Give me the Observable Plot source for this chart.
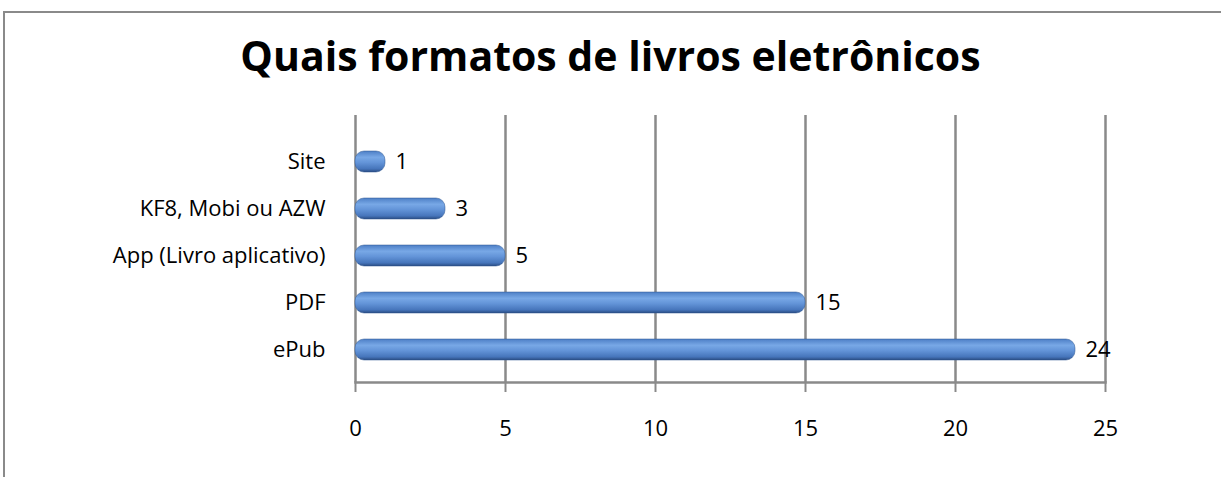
<!DOCTYPE html>
<html>
<head>
<meta charset="utf-8">
<script src="https://cdn.jsdelivr.net/npm/d3@7"></script>
<script src="https://cdn.jsdelivr.net/npm/@observablehq/plot@0.6"></script>
<style>
  html, body { margin: 0; padding: 0; background: #fff; }
  body { width: 1221px; height: 477px; position: relative; overflow: hidden; font-family: "Open Sans", sans-serif; }
  #border { position: absolute; left: 3px; top: 11px; width: 1300px; height: 600px; border-top: 2px solid #8a8a8a; border-left: 2px solid #8a8a8a; }
  #title { position: absolute; left: 0; top: 0; width: 1221px; height: 100px; text-align: center; font-weight: bold; font-size: 41px; line-height: 110px; color: #000; }
  #chart { position: absolute; left: 0; top: 100px; }
  #chart svg text { font-size: 22px; font-family: "Open Sans", sans-serif; }
</style>
</head>
<body>
<div id="border"></div>
<div id="title">Quais formatos de livros eletrônicos</div>
<div id="chart"></div>
<script>
const categories = ["Site", "KF8, Mobi ou AZW", "App (Livro aplicativo)", "PDF", "ePub"];
const values = [1, 3, 5, 15, 24];
const xTicks = [0, 5, 10, 15, 20, 25];

const data = categories.map((c, i) => ({category: c, value: values[i]}));

const svg = Plot.plot({
  width: 1221,
  height: 377,
  marginLeft: 355,
  marginRight: 116,
  marginTop: 15,
  marginBottom: 95,
  style: {fontFamily: "'Open Sans', sans-serif", fontSize: "22px", color: "#000", background: "transparent"},
  x: {domain: [0, 25], ticks: xTicks, label: null},
  y: {domain: categories, paddingInner: 0.55, paddingOuter: 0.58, align: 0.62, label: null},
  marks: [
    Plot.ruleX(xTicks, {stroke: "#8a8a8a", strokeWidth: 2.5, strokeOpacity: 1}),
    Plot.frame({anchor: "bottom", stroke: "#8a8a8a", strokeWidth: 2.5}),
    Plot.axisX({ticks: xTicks, tickSize: 10, tickPadding: 28, stroke: "#8a8a8a", strokeWidth: 2, fill: "#000", label: null}),
    Plot.axisY({tickSize: 0, tickPadding: 30, fill: "#000", label: null}),
    Plot.barX(data, {x: "value", y: "category", fill: "url(#cyl)", rx: 9, stroke: "#2f5790", strokeWidth: 0.5}),
    Plot.text(data, {x: "value", y: "category", text: d => String(d.value), dx: 10, textAnchor: "start", fill: "#000"})
  ]
});

svg.insertAdjacentHTML("afterbegin",
  `<defs><linearGradient id="cyl" x1="0" y1="0" x2="0" y2="1">
     <stop offset="0%" stop-color="#4d7fc6"/>
     <stop offset="30%" stop-color="#78a8e6"/>
     <stop offset="55%" stop-color="#6394d8"/>
     <stop offset="85%" stop-color="#4675bb"/>
     <stop offset="100%" stop-color="#2a4c82"/>
   </linearGradient></defs>`);

document.getElementById("chart").appendChild(svg);
</script>
</body>
</html>
